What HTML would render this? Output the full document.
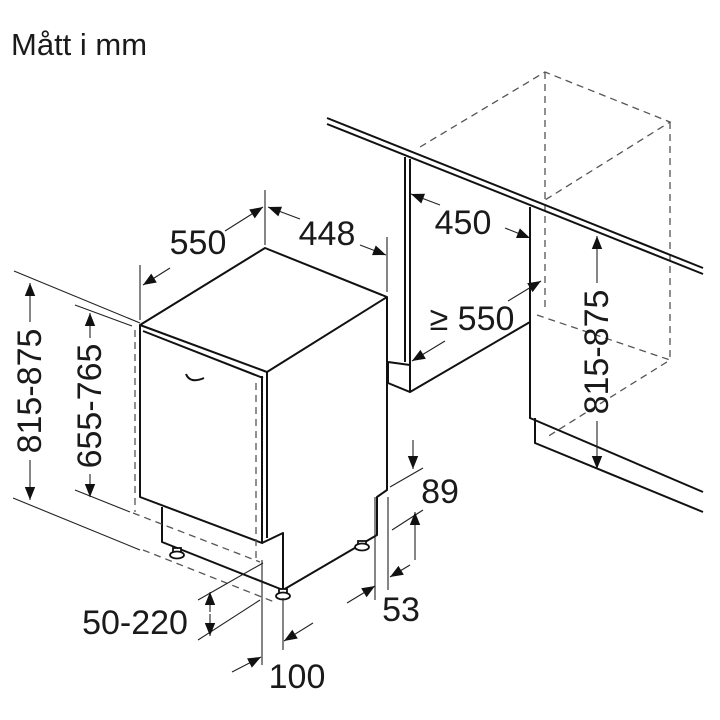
<!DOCTYPE html>
<html><head><meta charset="utf-8"><style>
html,body{margin:0;padding:0;background:#fff;}
svg{display:block;}
text{font-family:"Liberation Sans",Arial,sans-serif;fill:#1a1a1a;}
</style></head><body>
<svg width="720" height="720" viewBox="0 0 720 720" xmlns="http://www.w3.org/2000/svg">
<defs>
<marker id="a" viewBox="0 0 10 10" refX="10" refY="5" markerWidth="14" markerHeight="13" markerUnits="userSpaceOnUse" orient="auto-start-reverse">
<path d="M0,1 L10,5 L0,9 z" fill="#111"/></marker>
</defs>
<text x="11" y="55" font-size="31">Mått i mm</text>

<g stroke="#111" fill="none" stroke-width="2" stroke-linejoin="round">
<path d="M140,325 L265,248 L387,297 L267,372 Z" fill="#fff"/>
<path d="M143,331 L263,378"/>
<path d="M140,325 L140,497 L262,543 L262,376"/>
<path d="M267,372 L267,538"/>
<path d="M387,297 L387,490 L377,497 L377,535 L283,590"/>
<path d="M262,543 L283,533 L283,590"/>
<path d="M162,507 L162,542 L283,590"/>
</g>
<path d="M186,374 Q190,384 204,378" stroke="#111" stroke-width="2" fill="none"/>
<g fill="#fff" stroke="#111" stroke-width="1.8">
<rect x="173" y="548" width="8" height="7"/><ellipse cx="177" cy="555" rx="7" ry="3.5"/>
<rect x="358" y="541" width="8" height="6"/><ellipse cx="362" cy="547" rx="7" ry="3.5"/>
<rect x="279" y="589" width="8" height="6"/><ellipse cx="283" cy="596" rx="7" ry="3.5"/>
</g>

<g stroke="#555" stroke-width="1.3" fill="none" stroke-dasharray="7,5">
<path d="M135,330 L135,512"/>
<path d="M256,383 L256,562"/>
<path d="M133,513 L260,562"/>
<path d="M143,550 L277,603"/>
<path d="M420,147 L545,72 L670,122 L545,200"/>
<path d="M545,72 L545,310"/>
<path d="M670,122 L670,360"/>
<path d="M537,315 L670,360 L547,437"/>
</g>

<g stroke="#111" stroke-width="2" fill="none">
<path d="M327,118 L703,268"/>
<path d="M327,124 L703,274"/>
<path d="M405,157 L405,362 M410,159 L410,363"/>
<path d="M388,362 L410,365 M388,362 L388,383 L410,392 L530,322"/>
<path d="M410,363 L410,392"/>
<path d="M530,207 L530,418 L703,492"/>
<path d="M535,418 L535,443 L703,512"/>
</g>

<g stroke="#222" stroke-width="1.1" fill="none">
<path d="M14,271 L140,323"/>
<path d="M13,498 L140,550"/>
<path d="M75,305 L132,326"/>
<path d="M75,490 L130,512"/>
<path d="M140,265 L140,320 M265,190 L265,245 M387,237 L387,292"/>
<path d="M390,487 L423,468 M392,530 L423,510"/>
<path d="M375,497 L375,600 M388,497 L388,590"/>
<path d="M198,600 L263,563 M198,640 L260,600"/>
<path d="M262,560 L262,665 M283,598 L283,650"/>
</g>

<g stroke="#222" stroke-width="1.1" fill="none">
<path d="M30,322 L30,283" marker-end="url(#a)"/>
<path d="M30,460 L30,500" marker-end="url(#a)"/>
<path d="M90,338 L90,313" marker-end="url(#a)"/>
<path d="M90,474 L90,497" marker-end="url(#a)"/>
<path d="M170,268 L143,285" marker-end="url(#a)"/>
<path d="M225,231 L263,207" marker-end="url(#a)"/>
<path d="M300,219 L268,207" marker-end="url(#a)"/>
<path d="M360,245 L386,255" marker-end="url(#a)"/>
<path d="M440,205 L411,194" marker-end="url(#a)"/>
<path d="M505,228 L530,238" marker-end="url(#a)"/>
<path d="M508,301 L541,281" marker-end="url(#a)"/>
<path d="M445,341 L412,361" marker-end="url(#a)"/>
<path d="M597,283 L597,236" marker-end="url(#a)"/>
<path d="M597,421 L597,469" marker-end="url(#a)"/>
<path d="M413,440 L413,469" marker-end="url(#a)"/>
<path d="M415,560 L415,512" marker-end="url(#a)"/>
<path d="M410,565 L390,577" marker-end="url(#a)"/>
<path d="M347,603 L375,586" marker-end="url(#a)"/>
<path d="M210,612 L210,592" marker-end="url(#a)"/>
<path d="M210,614 L210,636" marker-end="url(#a)"/>
<path d="M232,672 L261,657" marker-end="url(#a)"/>
<path d="M313,623 L284,641" marker-end="url(#a)"/>
</g>

<g font-size="34">
<text x="30" y="391" text-anchor="middle" transform="rotate(-90 30 391)" dominant-baseline="central">815-875</text>
<text x="90" y="406" text-anchor="middle" transform="rotate(-90 90 406)" dominant-baseline="central">655-765</text>
<text x="597" y="352" text-anchor="middle" transform="rotate(-90 597 352)" dominant-baseline="central">815-875</text>
<text x="198" y="254" text-anchor="middle">550</text>
<text x="327" y="245" text-anchor="middle">448</text>
<text x="463" y="234" text-anchor="middle">450</text>
<text x="472" y="330" text-anchor="middle">≥ 550</text>
<text x="440" y="503" text-anchor="middle">89</text>
<text x="401" y="621" text-anchor="middle">53</text>
<text x="135" y="634" text-anchor="middle">50-220</text>
<text x="297" y="688" text-anchor="middle">100</text>
</g>
</svg>
</body></html>
